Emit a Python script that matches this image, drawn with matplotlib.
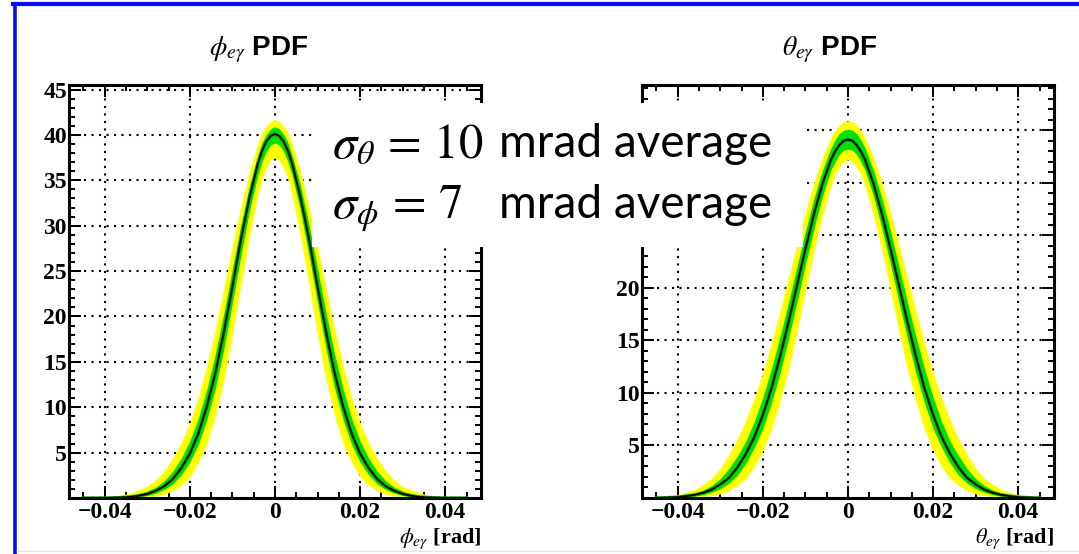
import matplotlib
matplotlib.use('Agg')
import matplotlib.pyplot as plt
from matplotlib.patches import Rectangle
from matplotlib.lines import Line2D
from matplotlib.ticker import MultipleLocator

plt.rcParams['mathtext.fontset'] = 'stix'

W, H = 1079, 554

# x samples (rad), shared by both panels
x_pts = [-0.045, -0.040, -0.036, -0.034, -0.032, -0.030, -0.028, -0.026, -0.024,
         -0.022, -0.020, -0.018, -0.016, -0.014, -0.012, -0.010, -0.008, -0.006,
         -0.004, -0.003, -0.002, -0.001, 0.0, 0.001, 0.002, 0.003, 0.004, 0.006,
         0.008, 0.010, 0.012, 0.014, 0.016, 0.018, 0.020, 0.022, 0.024, 0.026,
         0.028, 0.030, 0.032, 0.034, 0.036, 0.040, 0.045]

# phi PDF: central curve and the two bands (yellow outer, green inner)
phi_mid = [0.0, 0.0, 0.05, 0.12, 0.25, 0.45, 0.8, 1.3, 2.1, 3.3, 4.9, 7.1, 10.1, 13.8, 18.3, 23.3, 28.5, 33.1, 36.9, 38.3, 39.3, 39.9, 40.1,
           39.9, 39.3, 38.3, 36.9, 33.1, 28.5, 23.3, 18.3, 13.8, 10.1, 7.1, 4.9, 3.3, 2.1, 1.3, 0.8, 0.45, 0.25, 0.12, 0.05, 0.0, 0.0]
phi_yel_hi = [0.0, 0.1, 0.33, 0.55, 0.9, 1.3, 2.0, 3.0, 4.4, 6.1, 8.3, 11.1, 14.6, 18.6, 23.1, 27.8, 32.1, 36.0, 39.1, 40.3, 41.0, 41.5, 41.7,
              41.5, 41.0, 40.3, 39.1, 36.0, 32.1, 27.8, 23.1, 18.6, 14.6, 11.1, 8.3, 6.1, 4.4, 3.0, 2.0, 1.3, 0.9, 0.55, 0.33, 0.1, 0.0]
phi_yel_lo = [0.0, 0.0, 0.01, 0.02, 0.04, 0.08, 0.2, 0.4, 0.8, 1.4, 2.35, 3.9, 6.0, 9.1, 13.0, 18.0, 23.5, 28.8, 33.4, 35.2, 36.4, 37.2, 37.5,
              37.2, 36.4, 35.2, 33.4, 28.8, 23.5, 18.0, 13.0, 9.1, 6.0, 3.9, 2.35, 1.4, 0.8, 0.4, 0.2, 0.08, 0.04, 0.02, 0.01, 0.0, 0.0]
phi_grn_hi = [0.0, 0.03, 0.12, 0.25, 0.44, 0.76, 1.2, 1.9, 2.95, 4.4, 6.3, 8.8, 12.0, 15.9, 20.4, 25.3, 30.1, 34.4, 37.8, 39.2, 40.1, 40.7, 40.9,
              40.7, 40.1, 39.2, 37.8, 34.4, 30.1, 25.3, 20.4, 15.9, 12.0, 8.8, 6.3, 4.4, 2.95, 1.9, 1.2, 0.76, 0.44, 0.25, 0.12, 0.03, 0.0]
phi_grn_lo = [0.0, 0.0, 0.03, 0.06, 0.14, 0.28, 0.53, 0.94, 1.55, 2.55, 3.95, 5.9, 8.6, 12.1, 16.4, 21.5, 26.7, 31.6, 35.6, 37.1, 38.2, 38.9, 39.1,
              38.9, 38.2, 37.1, 35.6, 31.6, 26.7, 21.5, 16.4, 12.1, 8.6, 5.9, 3.95, 2.55, 1.55, 0.94, 0.53, 0.28, 0.14, 0.06, 0.03, 0.0, 0.0]

# theta PDF
theta_mid = [0.0, 0.07, 0.3, 0.5, 0.8, 1.3, 1.9, 2.9, 4.2, 5.8, 7.9, 10.4, 13.4, 16.7, 20.2, 23.7, 27.0, 29.9, 32.2, 33.0, 33.6, 34.0, 34.1,
             34.0, 33.6, 33.0, 32.2, 29.9, 27.0, 23.7, 20.2, 16.7, 13.4, 10.4, 7.9, 5.8, 4.2, 2.9, 1.9, 1.3, 0.8, 0.5, 0.3, 0.07, 0.0]
theta_yel_hi = [0.05, 0.3, 0.8, 1.3, 1.9, 2.8, 4.1, 5.6, 7.4, 9.5, 11.9, 14.7, 17.7, 20.9, 24.1, 27.2, 30.0, 32.4, 34.3, 35.0, 35.5, 35.8, 35.9,
                35.8, 35.5, 35.0, 34.3, 32.4, 30.0, 27.2, 24.1, 20.9, 17.7, 14.7, 11.9, 9.5, 7.4, 5.6, 4.1, 2.8, 1.9, 1.3, 0.8, 0.3, 0.05]
theta_yel_lo = [0.0, 0.01, 0.05, 0.1, 0.22, 0.39, 0.68, 1.2, 1.85, 3.0, 4.5, 6.5, 9.1, 12.2, 15.8, 19.7, 23.5, 26.9, 29.7, 30.8, 31.5, 32.0, 32.2,
                32.0, 31.5, 30.8, 29.7, 26.9, 23.5, 19.7, 15.8, 12.2, 9.1, 6.5, 4.5, 3.0, 1.85, 1.2, 0.68, 0.39, 0.22, 0.1, 0.05, 0.01, 0.0]
theta_grn_hi = [0.02, 0.15, 0.45, 0.75, 1.2, 1.85, 2.8, 4.0, 5.4, 7.3, 9.6, 12.3, 15.3, 18.6, 22.0, 25.4, 28.5, 31.2, 33.3, 34.1, 34.7, 35.0, 35.1,
                35.0, 34.7, 34.1, 33.3, 31.2, 28.5, 25.4, 22.0, 18.6, 15.3, 12.3, 9.6, 7.3, 5.4, 4.0, 2.8, 1.85, 1.2, 0.75, 0.45, 0.15, 0.02]
theta_grn_lo = [0.0, 0.03, 0.18, 0.31, 0.54, 0.88, 1.4, 2.15, 3.3, 4.8, 6.6, 9.0, 11.8, 15.1, 18.6, 22.2, 25.6, 28.7, 31.2, 32.0, 32.7, 33.1, 33.2,
                33.1, 32.7, 32.0, 31.2, 28.7, 25.6, 22.2, 18.6, 15.1, 11.8, 9.0, 6.6, 4.8, 3.3, 2.15, 1.4, 0.88, 0.54, 0.31, 0.18, 0.03, 0.0]

x_ticks = [-0.04, -0.02, 0.0, 0.02, 0.04]
x_tick_labels = ['\u22120.04', '\u22120.02', '0', '0.02', '0.04']
phi_yticks = [5, 10, 15, 20, 25, 30, 35, 40, 45]
phi_ytick_labels = ['5', '10', '15', '20', '25', '30', '35', '40', '45']
theta_yticks = [5, 10, 15, 20, 25, 30, 35]
# 25/30/35 sit under the white note box in the original, so they are not shown
theta_ytick_labels = ['5', '10', '15', '20', '', '', '']


def fx(px):
    return px / W


def fy(py):
    return 1 - py / H


def draw_panel(ax, mid, yel_lo, yel_hi, grn_lo, grn_hi, ymax, yticks, ylabels):
    ax.fill_between(x_pts, yel_lo, yel_hi, color='#ffff00', lw=0, zorder=2)
    ax.fill_between(x_pts, grn_lo, grn_hi, color='#00e000', lw=0, zorder=3)
    ax.plot(x_pts, mid, color='#00a000', lw=2.4, zorder=4, solid_joinstyle='round')
    ax.plot(x_pts, mid, color='black', lw=1.3, zorder=5, solid_joinstyle='round')

    ax.set_xlim(-0.0484, 0.0484)
    ax.set_ylim(0, ymax)
    ax.set_xticks(x_ticks)
    ax.set_xticklabels(x_tick_labels)
    ax.set_yticks(yticks)
    ax.set_yticklabels(ylabels)
    ax.xaxis.set_minor_locator(MultipleLocator(0.005))
    ax.yaxis.set_minor_locator(MultipleLocator(1))

    ax.grid(True, which='major', color='black', lw=1.5, linestyle=(0, (1, 2.6)), zorder=1)
    ax.set_axisbelow(True)
    for s in ax.spines.values():
        s.set_linewidth(2.2)
        s.set_zorder(6)

    ax.tick_params(which='both', direction='in', top=True, right=True, width=1.4, colors='black')
    ax.tick_params(which='major', length=8.6)
    ax.tick_params(which='minor', length=4.3)
    ax.tick_params(axis='x', which='major', pad=3)
    ax.tick_params(axis='y', which='major', pad=1.5)
    for lab in ax.get_xticklabels() + ax.get_yticklabels():
        lab.set_fontfamily('Liberation Serif')
        lab.set_fontweight('bold')
        lab.set_fontsize(17)


fig = plt.figure(figsize=(W / 100, H / 100), dpi=100)
fig.patch.set_facecolor('white')

ax1 = fig.add_axes([fx(69), fy(498), fx(412), 413 / H])
ax2 = fig.add_axes([fx(642), fy(498), fx(412), 413 / H])

draw_panel(ax1, phi_mid, phi_yel_lo, phi_yel_hi, phi_grn_lo, phi_grn_hi, 45.5,
           phi_yticks, phi_ytick_labels)
draw_panel(ax2, theta_mid, theta_yel_lo, theta_yel_hi, theta_grn_lo, theta_grn_hi, 39.3,
           theta_yticks, theta_ytick_labels)

# titles and axis labels
fig.text(fx(259), fy(55), r'$\phi_{e\gamma}$ PDF', ha='center', va='baseline',
         fontfamily='Liberation Sans', fontweight='bold', fontsize=20)
fig.text(fx(830), fy(55), r'$\theta_{e\gamma}$ PDF', ha='center', va='baseline',
         fontfamily='Liberation Sans', fontweight='bold', fontsize=20)
fig.text(fx(481), fy(543), r'$\phi_{e\gamma}$ [rad]', ha='right', va='baseline',
         fontfamily='Liberation Serif', fontweight='bold', fontsize=16)
fig.text(fx(1054), fy(543), r'$\theta_{e\gamma}$ [rad]', ha='right', va='baseline',
         fontfamily='Liberation Serif', fontweight='bold', fontsize=16)

# white box with the resolution note
fig.patches.append(Rectangle((fx(312), fy(247)), fx(803 - 312), (247 - 103) / H,
                             transform=fig.transFigure, facecolor='white',
                             edgecolor='none', zorder=5))
fig.text(fx(332), fy(157), r'$\sigma_\theta\,=\,10$', ha='left', va='baseline',
         fontsize=35, zorder=6)
fig.text(fx(499), fy(157), 'mrad average', ha='left', va='baseline',
         fontfamily='Lato', fontsize=33, zorder=6)
fig.text(fx(332), fy(218), r'$\sigma_\phi\,=\,7$', ha='left', va='baseline',
         fontsize=35, zorder=6)
fig.text(fx(499), fy(218), 'mrad average', ha='left', va='baseline',
         fontfamily='Lato', fontsize=33, zorder=6)

# blue slide frame
fig.lines.append(Line2D([fx(15), fx(15)], [fy(4), 0], transform=fig.transFigure,
                        color='#0a0af0', lw=2.6, zorder=7))
fig.lines.append(Line2D([fx(13.2), 1], [fy(4), fy(4)], transform=fig.transFigure,
                        color='#0a0af0', lw=3.0, zorder=7))
fig.lines.append(Line2D([fx(17), 1], [fy(551), fy(551)], transform=fig.transFigure,
                        color='#e2e2f2', lw=1.0, zorder=7))

fig.savefig('out.png', dpi=100)
